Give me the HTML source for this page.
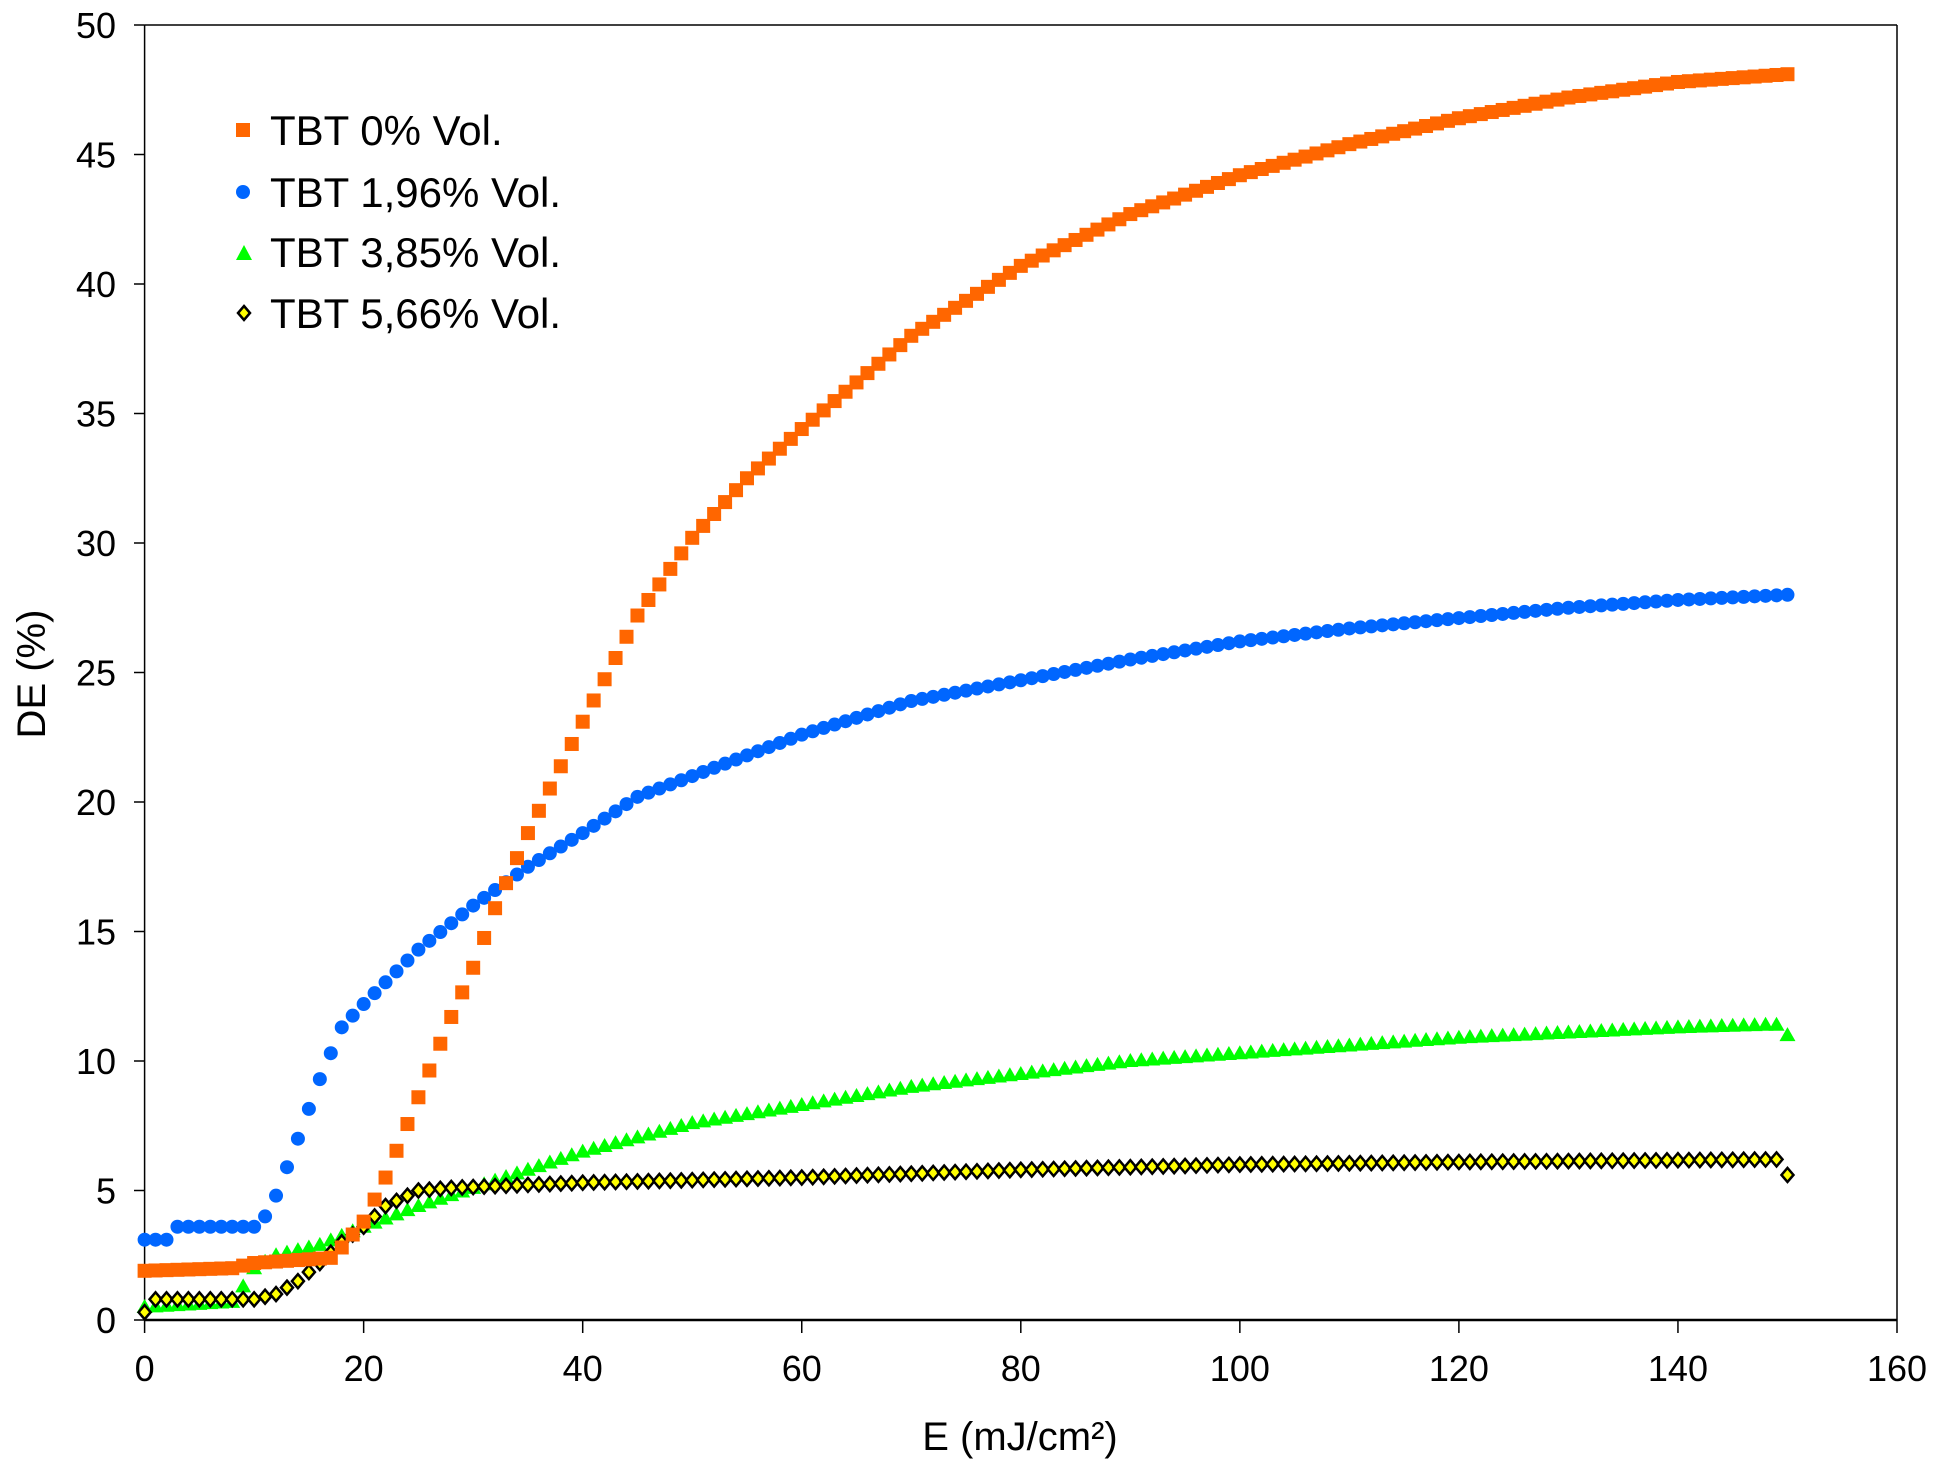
<!DOCTYPE html>
<html><head><meta charset="utf-8"><style>
html,body{margin:0;padding:0;background:#fff}
svg{display:block;font-family:"Liberation Sans",Arial,sans-serif}
</style></head><body>
<svg id="s" width="1938" height="1473" viewBox="0 0 1938 1473" xmlns="http://www.w3.org/2000/svg">
<rect width="1938" height="1473" fill="#fff"/>
<g id="g"></g>
</svg>
<script>
const X0=144.6,X1=1897,Y0=1320,Y1=25;
const sx=v=>X0+v*(X1-X0)/160, sy=v=>Y0-v*(Y0-Y1)/50;
let h='';
h+=`<line x1="${X0}" y1="${Y1}" x2="${X1}" y2="${Y1}" stroke="#000" stroke-width="1.5"/>`;
h+=`<line x1="${X1}" y1="${Y1}" x2="${X1}" y2="${Y0}" stroke="#000" stroke-width="1.5"/>`;
h+=`<line x1="${X0}" y1="${Y1}" x2="${X0}" y2="${Y0}" stroke="#000" stroke-width="1.5"/>`;
h+=`<line x1="${X0}" y1="${Y0}" x2="${X1}" y2="${Y0}" stroke="#000" stroke-width="2.5"/>`;
for(let v=0;v<=50;v+=5){const y=sy(v);h+=`<line x1="134" y1="${y}" x2="${X0}" y2="${y}" stroke="#000" stroke-width="1.5"/><text x="116" y="${y+13}" font-size="36" text-anchor="end">${v}</text>`;}
for(let v=0;v<=160;v+=20){const x=sx(v);h+=`<line x1="${x}" y1="${Y0}" x2="${x}" y2="1333" stroke="#000" stroke-width="1.5"/><text x="${x}" y="1381" font-size="36" text-anchor="middle">${v}</text>`;}
h+=`<text x="1020" y="1450" font-size="40" text-anchor="middle">E (mJ/cm²)</text>`;
h+=`<text transform="translate(45,674) rotate(-90)" font-size="40" text-anchor="middle">DE (%)</text>`;
function interp(k,x){for(let i=0;i<k.length-1;i++){if(x>=k[i][0]&&x<=k[i+1][0]){const t=(x-k[i][0])/(k[i+1][0]-k[i][0]);return k[i][1]+t*(k[i+1][1]-k[i][1]);}}return k[k.length-1][1];}
const O=[[0,1.9],[8,2],[10,2.2],[17,2.4],[18,2.8],[20,3.8],[22,5.5],[25,8.6],[28,11.7],[30,13.6],[32,15.9],[35,18.8],[40,23.1],[45,27.2],[50,30.2],[55,32.5],[60,34.4],[70,38],[80,40.7],[90,42.7],[100,44.2],[110,45.4],[120,46.4],[130,47.2],[140,47.8],[150,48.1]];
const B=[[0,3.1],[2,3.1],[3,3.6],[10,3.6],[11,4],[12,4.8],[14,7],[16,9.3],[18,11.3],[20,12.2],[25,14.3],[30,16],[35,17.5],[40,18.8],[45,20.2],[50,21],[60,22.6],[70,23.9],[80,24.7],[90,25.5],[100,26.2],[110,26.7],[120,27.1],[130,27.5],[140,27.8],[150,28]];
const G=[[0,0.5],[8,0.7],[9,1.3],[10,2],[12,2.5],[16,2.9],[20,3.6],[25,4.4],[30,5.1],[35,5.8],[40,6.5],[50,7.6],[60,8.3],[70,9],[80,9.5],[90,10],[100,10.3],[110,10.6],[120,10.9],[130,11.1],[140,11.3],[148,11.4],[149,11.4],[150,11]];
const K=[[0,0.3],[1,0.8],[10,0.8],[12,1],[14,1.5],[16,2.2],[18,3],[20,3.6],[22,4.4],[25,5],[28,5.1],[40,5.3],[60,5.5],[80,5.8],[100,6],[120,6.1],[149,6.2],[150,5.6]];
function pts(k){const a=[];for(let x=0;x<=150;x+=1)a.push([sx(x),sy(interp(k,x))]);return a;}
pts(G).forEach(([x,y])=>h+=`<polygon points="${x},${y-8} ${x+8},${y+6} ${x-8},${y+6}" fill="#00ff00"/>`);
pts(K).forEach(([x,y])=>h+=`<polygon points="${x},${y-7} ${x+6},${y} ${x},${y+7} ${x-6},${y}" fill="#ffff00" stroke="#000" stroke-width="2.5"/>`);
pts(B).forEach(([x,y])=>h+=`<circle cx="${x}" cy="${y}" r="7" fill="#0066ff"/>`);
pts(O).forEach(([x,y])=>h+=`<rect x="${x-7}" y="${y-7}" width="14" height="14" fill="#ff6600"/>`);
const L=[[130,'TBT 0% Vol.'],[192,'TBT 1,96% Vol.'],[252,'TBT 3,85% Vol.'],[313,'TBT 5,66% Vol.']];
h+=`<rect x="236" y="123" width="14" height="14" fill="#ff6600"/>`;
h+=`<circle cx="243" cy="192" r="7" fill="#0066ff"/>`;
h+=`<polygon points="244,245 252,260 236,260" fill="#00ff00"/>`;
h+=`<polygon points="244,306 250,313 244,320 238,313" fill="#ffff00" stroke="#000" stroke-width="2.5"/>`;
L.forEach(([y,t])=>h+=`<text x="270" y="${y+15}" font-size="42">${t}</text>`);
document.getElementById('g').innerHTML=h;
</script>
</body></html>
